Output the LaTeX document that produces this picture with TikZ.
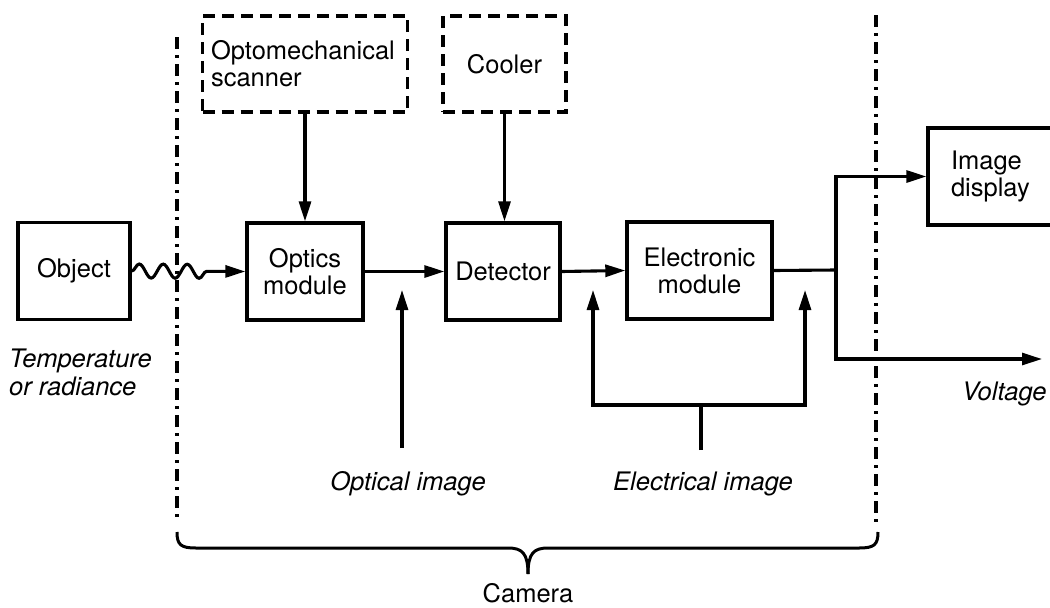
\documentclass[tikz,border=0pt]{standalone}
\usepackage{fontspec}
\setmainfont{TeX Gyre Heros}
\usetikzlibrary{arrows.meta,decorations.pathmorphing}
\begin{document}
\begin{tikzpicture}[x=1pt,y=-1pt,
  font=\fontsize{25.5}{27}\selectfont,
  blk/.style={draw, line width=3.4pt, minimum height=97pt, inner sep=0pt, align=center},
  dblk/.style={draw, line width=3.6pt, dash pattern=on 12pt off 7pt, minimum height=96pt, inner sep=0pt, align=left},
  conn/.style={line width=3.1pt},
  arr/.style={conn, -{Triangle[length=20pt,width=12pt]}},
  dashdotline/.style={line width=3.4pt, dash pattern=on 12pt off 6pt on 3pt off 6pt},
  lbl/.style={inner sep=0pt, font=\fontsize{25.5}{27}\selectfont\itshape},
]
\useasboundingbox (0,0) rectangle (1050,608);

% camera boundary lines
\coordinate (l1) at (177,37);
\coordinate (l2) at (177,522);
\coordinate (r1) at (876,15);
\coordinate (r2) at (876,522);
\draw[dashdotline] (l1) -- (l2);
\draw[dashdotline] (r1) -- (r2);

% blocks
\node[blk, minimum width=112pt] (obj) at (74,271) {Object};
\node[blk, minimum width=116pt] (opt) at (305,271.5) {Optics\\module};
\node[blk, minimum width=114pt] (det) at (503,271.5) {Detector};
\node[blk, minimum width=145pt] (ele) at (699.5,270.5) {Electronic\\module};
\node[blk, minimum width=130pt, text width=84pt, align=left] (disp) at (993,176.5) {Image\\display};
\node[dblk, minimum width=205pt, text width=188pt] (scan) at (305,64) {Optomechanical\\scanner};
\node[dblk, minimum width=123pt, align=center] (cool) at (504.5,64) {Cooler};

% connectors
\draw[arr] (scan.south) -- (scan.south |- opt.north);
\draw[arr] (cool.south) -- (cool.south |- det.north);
\draw[arr, decorate, decoration={snake, amplitude=7pt, segment length=24pt, post length=34pt}] (obj.east) -- (opt.west);
\draw[arr] (opt.east) -- (det.west);
\draw[arr] (det.east) -- (ele.west);

\coordinate (br) at (836,270);
\coordinate (vend) at (1042,359);
\draw[conn] (ele.east) -- (br);
\draw[arr] (br) |- (disp.west);
\draw[arr] (br) |- (vend);

% optical image pointer
\coordinate (oi0) at (402,448);
\coordinate (oi1) at (402,290);
\draw[arr] (oi0) -- (oi1);

% electrical image fork
\coordinate (ei0) at (701,450);
\coordinate (ej) at (701,405);
\coordinate (ea1) at (593,290);
\coordinate (ea2) at (805,290);
\draw[conn] (ei0) -- (ej);
\draw[arr] (ej) -| (ea1);
\draw[arr] (ej) -| (ea2);

% brace
\coordinate (bl) at (177,532);
\coordinate (brr) at (878,532);
\coordinate (btip) at (528,574);
\draw[line width=3pt] (bl) .. controls (177,545) and (181,548) .. (196,548) -- (508,548) .. controls (522,548) and (528,553) .. (btip);
\draw[line width=3pt] (brr) .. controls (878,545) and (874,548) .. (859,548) -- (548,548) .. controls (534,548) and (528,553) .. (btip);

% labels
\node[lbl, anchor=base west] (t1) at (9,367) {Temperature};
\node[lbl, anchor=base west] (t2) at (9,395) {or radiance};
\node[lbl, anchor=base] (oim) at (408,490) {Optical image};
\node[lbl, anchor=base] (eim) at (703,490) {Electrical image};
\node[lbl, anchor=base west] (volt) at (962,400) {Voltage};
\node[inner sep=0pt, anchor=base] (cam) at (528,602) {Camera};
\end{tikzpicture}
\end{document}
